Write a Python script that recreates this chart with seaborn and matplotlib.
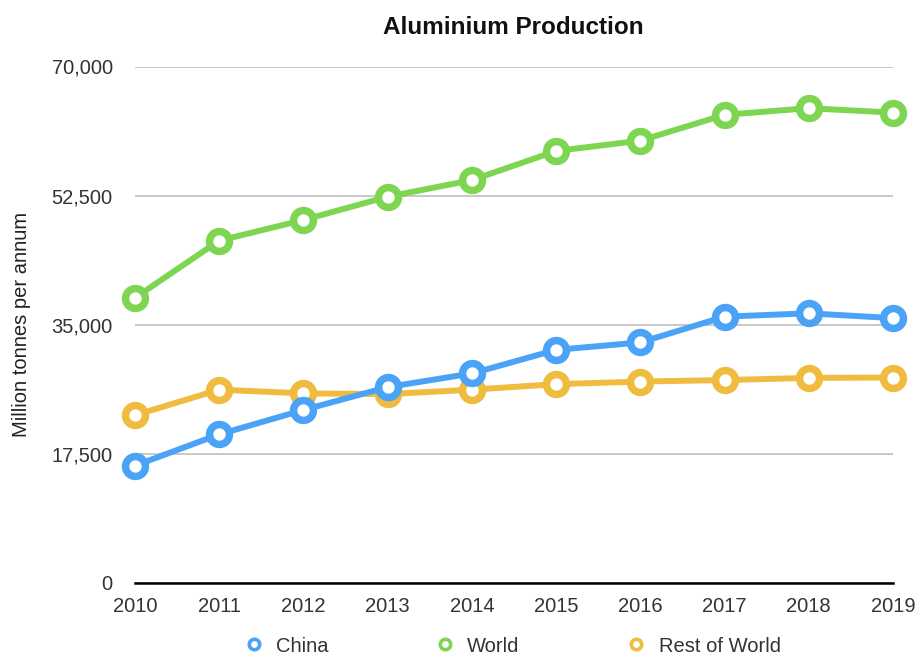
import matplotlib
matplotlib.use("Agg")
import matplotlib.pyplot as plt
from matplotlib.lines import Line2D
from matplotlib.ticker import FuncFormatter
import pandas as pd
import seaborn as sns

years = [2010, 2011, 2012, 2013, 2014, 2015, 2016, 2017, 2018, 2019]
china = [15900, 20150, 23450, 26550, 28400, 31600, 32600, 36100, 36550, 35900]
world = [38650, 46400, 49200, 52350, 54600, 58550, 59950, 63450, 64350, 63750]
rest_of_world = [22750, 26200, 25700, 25600, 26200, 26950, 27300, 27500, 27800, 27850]

series = ["China", "World", "Rest of World"]
colors = {"China": "#4aa3f6", "World": "#7ed552", "Rest of World": "#f0bc3f"}
yticks = [0, 17500, 35000, 52500, 70000]

df = pd.DataFrame({"Year": years, "China": china, "World": world,
                   "Rest of World": rest_of_world})
long = df.melt(id_vars="Year", var_name="Series", value_name="Value")

sns.set_style("white")
plt.rcParams["font.family"] = ["Liberation Sans", "DejaVu Sans"]

fig = plt.figure(figsize=(9.16, 6.56), dpi=100)
ax = fig.add_axes([135 / 916, 1 - 583 / 656, 758 / 916, 516.5 / 656])

# draw order: rest of world underneath, world on top
z = {"Rest of World": 3, "China": 4, "World": 5}
for name in ["Rest of World", "China", "World"]:
    sub = long[long["Series"] == name]
    sns.lineplot(data=sub, x="Year", y="Value", ax=ax, color=colors[name],
                 lw=4.3, marker="o", markersize=14.3, markeredgewidth=5.4,
                 markerfacecolor="white", markeredgecolor=colors[name],
                 clip_on=False, zorder=z[name], legend=False)

ax.set_xlim(2010, 2019)
ax.set_ylim(0, 70000)
ax.set_xticks(years)
ax.set_yticks(yticks)
ax.yaxis.set_major_formatter(FuncFormatter(lambda v, p: f"{int(v):,}"))
ax.tick_params(axis="both", length=0, labelsize=14.5, colors="#333333")
ax.tick_params(axis="y", pad=16)
ax.tick_params(axis="x", pad=10)
ax.grid(axis="y", color="#c4c4c4", lw=1.3)
ax.grid(axis="x", visible=False)
for s in ["top", "right", "left"]:
    ax.spines[s].set_visible(False)
ax.spines["bottom"].set_color("black")
ax.spines["bottom"].set_linewidth(1.8)
ax.spines["bottom"].set_zorder(6)

ax.set_xlabel("")
ax.set_ylabel("Million tonnes per annum", fontsize=14.5, color="#222222")
ax.yaxis.set_label_coords(-0.137, 0.5)

fig.text(513 / 916, 1 - 27 / 656, "Aluminium Production", ha="center",
         va="center", fontsize=17.5, fontweight="bold", color="#111111")

handles = [Line2D([], [], ls="none", marker="o", markersize=7.5,
                  markeredgewidth=2.6, markerfacecolor="white",
                  markeredgecolor=colors[n]) for n in series]
fig.legend(handles, series, loc="center", bbox_to_anchor=(512 / 916, 1 - 646 / 656),
           ncol=3, frameon=False, fontsize=14.5, handlelength=1.0,
           handletextpad=0.6, columnspacing=5.3, labelcolor="#333333")

fig.savefig("out.png", dpi=100)
